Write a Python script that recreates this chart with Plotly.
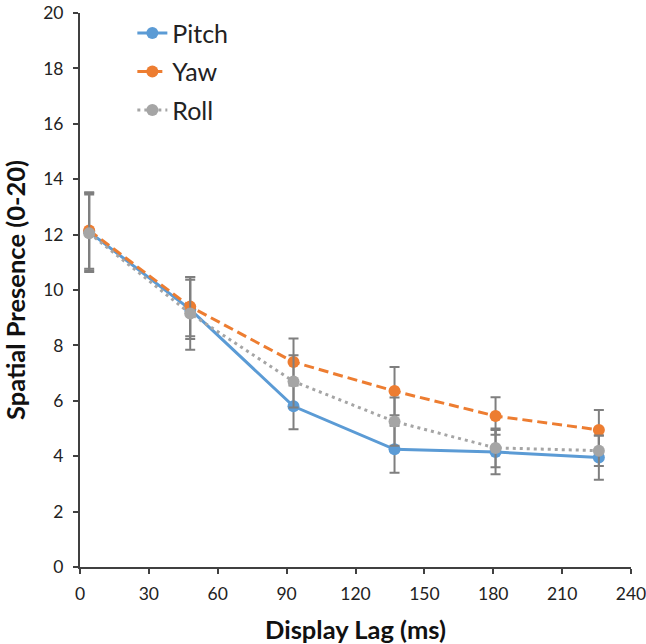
import plotly.graph_objects as go

# display lag (ms) for each condition
lag = [4, 48, 93, 137, 181, 226]

# mean spatial presence per rotation axis
pitch = [12.1, 9.3, 5.8, 4.25, 4.15, 3.95]
yaw = [12.15, 9.4, 7.4, 6.35, 5.45, 4.95]
roll = [12.05, 9.15, 6.7, 5.25, 4.3, 4.2]

# error bar half-widths
pitch_err = [1.4, 1.07, 0.83, 0.85, 0.8, 0.8]
yaw_err = [1.38, 1.07, 0.85, 0.87, 0.68, 0.72]
roll_err = [1.4, 1.31, 0.94, 0.87, 0.7, 0.55]

x_ticks = [0, 30, 60, 90, 120, 150, 180, 210, 240]
y_ticks = list(range(0, 21, 2))

series = [
    ("Pitch", pitch, pitch_err, "#5B9BD5", "solid"),
    ("Yaw", yaw, yaw_err, "#ED7D31", "10px,5px"),
    ("Roll", roll, roll_err, "#A5A5A5", "3px,4px"),
]

font = "Lato, 'Open Sans', sans-serif"
config = {'displayModeBar': False}

fig = go.Figure()
for name, vals, err, col, dash in series:
    fig.add_trace(go.Scatter(
        x=lag, y=vals, name=name, legendgroup=name,
        mode="lines+markers",
        line=dict(color=col, width=3, dash=dash),
        marker=dict(color=col, size=12),
        error_y=dict(type="data", array=err, symmetric=True,
                     color="#7F7F7F", thickness=2, width=5),
    ))

axis_common = dict(
    showgrid=False, zeroline=False, showline=True,
    linecolor="#404040", linewidth=2,
    ticks="outside", ticklen=5, tickcolor="#404040", tickwidth=1.5,
    tickfont=dict(family=font, size=17.5, color="#222"),
    ticklabeloverflow="allow", automargin=False,
)

fig.update_layout(
    width=646, height=644,
    paper_bgcolor="white", plot_bgcolor="white",
    margin=dict(l=80, r=15, t=10, b=77),
    font=dict(family=font),
    xaxis=dict(range=[0, 240], tickvals=x_ticks, ticklabelstandoff=5,
               title=dict(text="<b>Display Lag (ms)</b>",
                          font=dict(family=font, size=25.5, color="#111"),
                          standoff=19),
               **axis_common),
    yaxis=dict(range=[0, 20], tickvals=y_ticks, ticklabelstandoff=6,
               title=dict(text="<b>Spatial Presence (0-20)</b>",
                          font=dict(family=font, size=25.5, color="#111"),
                          standoff=16),
               **axis_common),
    legend=dict(x=0.095, y=1.005, xanchor="left", yanchor="top",
                font=dict(family=font, size=25, color="#222"),
                tracegroupgap=3, bgcolor="rgba(0,0,0,0)"),
)

# drop the page's default 8px body margin so the figure fills the window
fig.write_html("out.html", config=config,
               post_script="document.body.style.margin='0';")
